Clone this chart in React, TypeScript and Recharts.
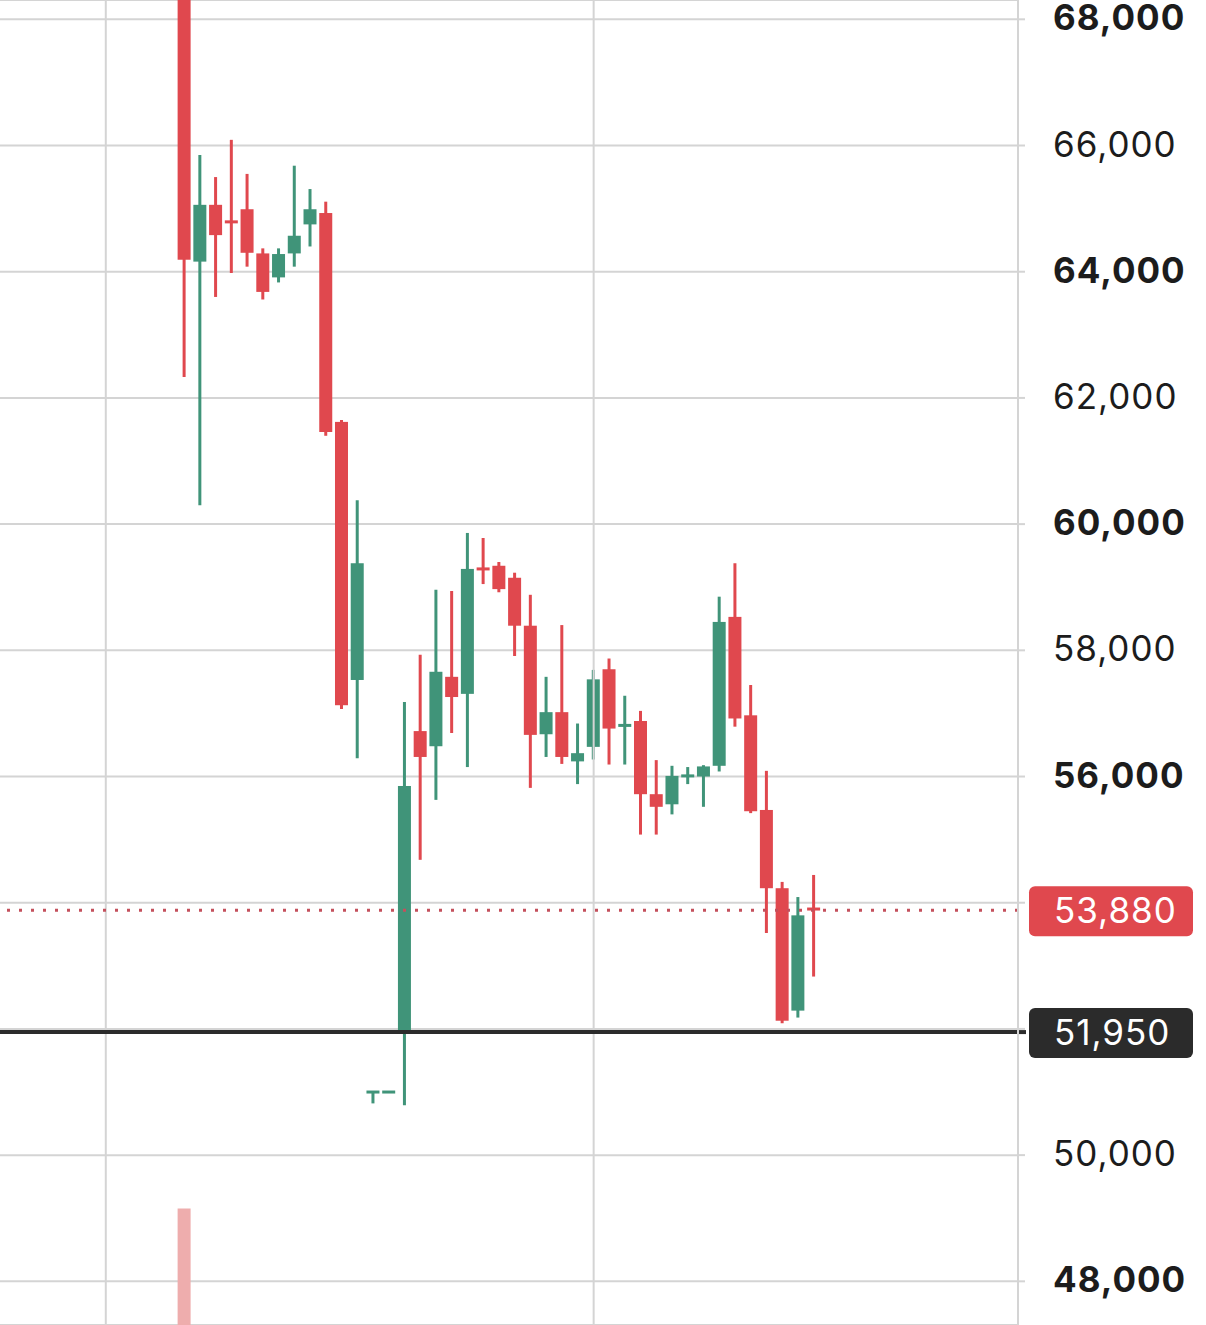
import { ComposedChart, Bar, XAxis, YAxis, CartesianGrid, ReferenceLine } from "recharts";

// 41 candles (price in USD)
const opens = [
  68900, 64160, 65060, 64790, 64990, 64290, 63910, 64290, 64750, 64930,
  61620, 57530, 51000, 51000, 51980, 56720, 56480, 57580, 57310, 59290,
  59340, 59150, 58390, 56670, 57020, 56240, 56470, 57700, 56800, 56880,
  55720, 55560, 56000, 56000, 56170, 58530, 56970, 55470, 54230, 52290,
  53900,
];
const highs = [
  69200, 65850, 65500, 66090, 65550, 64370, 64370, 65680, 65310, 65110,
  61650, 60380, 51000, 51000, 57180, 57930, 58960, 58940, 59860, 59780,
  59400, 59230, 58880, 57580, 58400, 56840, 57690, 57870, 57280, 57040,
  56260, 56170, 56150, 56180, 58850, 59380, 57450, 56090, 54330, 54090,
  54440,
];
const lows = [
  62330, 60300, 63600, 63980, 64080, 63560, 63830, 64080, 64400, 61400,
  57070, 56290, 50820, 51000, 50790, 54680, 55630, 56690, 56150, 59050,
  58920, 57910, 55820, 56310, 56200, 55880, 56270, 56190, 56190, 55080,
  55080, 55400, 55880, 55520, 56080, 56790, 55420, 53520, 52090, 52180,
  52830,
];
const closes = [
  64190, 65060, 64580, 64770, 64300, 63680, 64280, 64570, 64990, 61460,
  57130, 59380, 51000, 51000, 55850, 56310, 57660, 57260, 59290, 59250,
  58970, 58390, 56660, 57020, 56310, 56370, 57540, 56760, 56810, 55720,
  55520, 56010, 56010, 56160, 58450, 56920, 55450, 54230, 52130, 53800,
  53880,
];
// only the first volume bar shows in the pane
const volumes: (number | null)[] = [1320];

const leadSlots = 11;
const trailSlots = 12;
const gridSlots = [6, 37];

const priceTicks = [48000, 50000, 52000, 54000, 56000, 58000, 60000, 62000, 64000, 66000, 68000];
const boldTicks = [48000, 56000, 60000, 64000, 68000];
const hiddenTicks = [52000, 54000];

const lastPrice = 53880;
const markPrice = 51950;

const RED = "#e0484e";
const GREEN = "#409479";
const GRID = "#d4d4d4";
const FONT = "Inter, 'Noto Sans', sans-serif";

const totalSlots = leadSlots + opens.length + trailSlots;
const data = Array.from({ length: totalSlots }, (_, i) => {
  const k = i - leadSlots;
  const has = k >= 0 && k < opens.length;
  return {
    slot: `s${i}`,
    open: has ? opens[k] : null,
    high: has ? highs[k] : null,
    low: has ? lows[k] : null,
    close: has ? closes[k] : null,
    volume: has ? volumes[k] ?? null : null,
  };
});

function Candle(props: any) {
  const { x, y, width, height, payload } = props;
  if (payload.open == null) return <g />;
  const { open, high, low, close } = payload;
  const range = high - low;
  const py = (v: number) => (range > 0 ? y + ((high - v) / range) * height : y);
  const color = close >= open ? GREEN : RED;
  const cx = x + width / 2;
  const top = py(Math.max(open, close));
  const bottom = py(Math.min(open, close));
  const bodyH = Math.max(bottom - top, 3);
  return (
    <g>
      <line x1={cx} x2={cx} y1={py(high)} y2={py(low)} stroke={color} strokeWidth={3} />
      <rect x={x} y={bottom - top < 3 ? top - 1.5 : top} width={width} height={bodyH} fill={color} />
    </g>
  );
}

function PriceTick(props: any) {
  const { x, y, payload } = props;
  const v = payload.value;
  if (hiddenTicks.includes(v)) return <g />;
  return (
    <text
      x={x}
      y={y + 11}
      textAnchor="start"
      fontFamily={FONT}
      fontSize={35}
      letterSpacing={1}
      fontWeight={boldTicks.includes(v) ? 700 : 400}
      fill="#1c1c1c"
    >
      {v.toLocaleString("en-US")}
    </text>
  );
}

function PriceTag(props: any) {
  const { viewBox, bg, value, ext } = props;
  if (!viewBox) return null;
  const right = viewBox.x + viewBox.width;
  const y = viewBox.y;
  return (
    <g>
      {ext && <line x1={right} x2={right + 8} y1={y} y2={y} stroke={bg} strokeWidth={4} />}
      <rect x={right + 11} y={y - 24} width={164} height={50} rx={6} fill={bg} />
      <text x={right + 36} y={y + 12.5} fontFamily={FONT} fontSize={35} letterSpacing={1} fill="#ffffff">
        {value.toLocaleString("en-US")}
      </text>
    </g>
  );
}

export default function App() {
  return (
    <div style={{ position: "absolute", left: 0, top: 0, width: 1206, height: 1325, background: "#fff" }}>
      <ComposedChart width={1206} height={1325} data={data} margin={{ top: 0, right: 0, bottom: 0, left: 0 }}>
        <CartesianGrid vertical={false} stroke={GRID} strokeWidth={2} />
        <XAxis dataKey="slot" hide padding={{ left: 3.5, right: 7.3 }} />
        <XAxis xAxisId="v" dataKey="slot" hide padding={{ left: 3.5, right: 7.3 }} />
        <YAxis
          orientation="right"
          width={188}
          domain={[47308, 68306]}
          allowDataOverflow
          ticks={priceTicks}
          interval={0}
          axisLine={{ stroke: GRID, strokeWidth: 2 }}
          tickLine={{ stroke: GRID, strokeWidth: 2 }}
          tickSize={7}
          tickMargin={28}
          tick={<PriceTick />}
        />
        <YAxis yAxisId="v" hide domain={[0, 15000]} />
        {gridSlots.map((s) => (
          <ReferenceLine key={s} x={`s${s}`} stroke={GRID} strokeWidth={2} />
        ))}
        <ReferenceLine
          y={lastPrice}
          stroke="#c4505c"
          strokeWidth={3}
          strokeDasharray="3 9"
          label={<PriceTag bg={RED} value={lastPrice} />}
        />
        <ReferenceLine
          y={markPrice}
          stroke="#2b2b2b"
          strokeWidth={4}
          label={<PriceTag bg="#2b2b2b" value={markPrice} ext />}
        />
        <Bar xAxisId="v" yAxisId="v" dataKey="volume" fill="#eeadad" barSize={13} isAnimationActive={false} />
        <Bar
          dataKey={(d: any) => (d.open == null ? null : [d.low, d.high])}
          barSize={13}
          shape={<Candle />}
          isAnimationActive={false}
        />
      </ComposedChart>
    </div>
  );
}
